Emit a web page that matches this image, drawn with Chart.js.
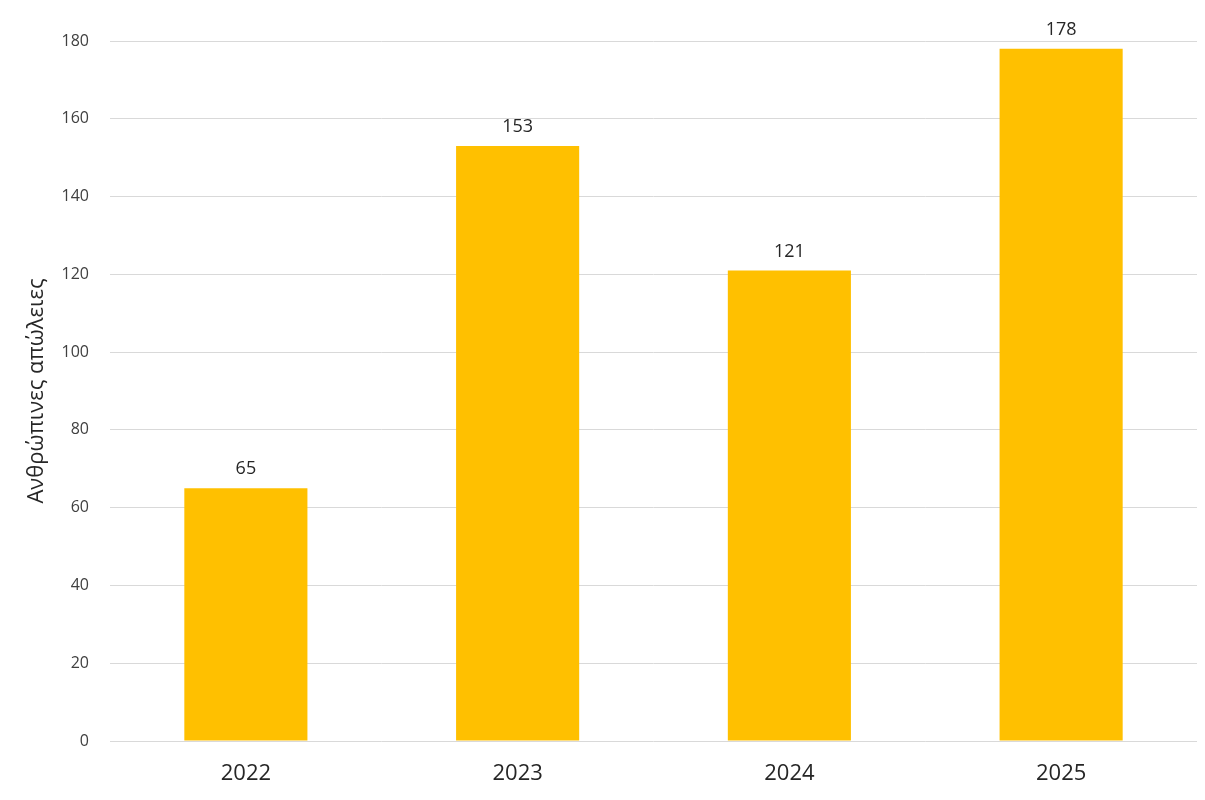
<!DOCTYPE html>
<html>
<head>
<meta charset="utf-8">
<script src="https://cdn.jsdelivr.net/npm/chart.js@4"></script>
<style>
  html, body { margin: 0; padding: 0; background: #fff; }
  #wrap { width: 1205px; height: 800px; }
</style>
</head>
<body>
<div id="wrap"><canvas id="mainChart"></canvas></div>
<script>
const years = ['2022', '2023', '2024', '2025'];
const losses = [65, 153, 121, 178];
const yTicks = [0, 20, 40, 60, 80, 100, 120, 140, 160, 180];

// value labels above each bar
const barLabels = {
  id: 'barLabels',
  afterDatasetsDraw(chart) {
    const ctx = chart.ctx;
    const meta = chart.getDatasetMeta(0);
    ctx.save();
    ctx.font = '18px "Open Sans", sans-serif';
    ctx.fillStyle = '#262626';
    ctx.textAlign = 'center';
    ctx.textBaseline = 'bottom';
    meta.data.forEach((bar, i) => {
      ctx.fillText(losses[i], bar.x, bar.y - 10);
    });
    ctx.restore();
  }
};

const config = {
  type: 'bar',
  data: {
    labels: years,
    datasets: [{
      data: losses,
      backgroundColor: '#FFC000',
      borderWidth: 0,
      barPercentage: 0.453,
      categoryPercentage: 1
    }]
  },
  options: {
    responsive: true,
    maintainAspectRatio: false,
    animation: false,
    layout: {
      padding: { top: 41, right: 8, bottom: 0, left: 0 }
    },
    scales: {
      x: {
        grid: { display: false },
        border: { display: false },
        ticks: {
          color: '#262626',
          font: { size: 22, family: '"Open Sans", sans-serif' },
          padding: 12
        },
        afterFit: scale => { scale.height = 59; }
      },
      y: {
        min: 0,
        max: 180,
        afterBuildTicks: scale => {
          scale.ticks = yTicks.map(v => ({ value: v }));
        },
        grid: { color: '#d9d9d9', lineWidth: 1, drawTicks: false },
        border: { display: false },
        ticks: {
          color: '#404040',
          font: { size: 16, family: '"Open Sans", sans-serif' },
          padding: 21
        },
        title: {
          display: true,
          text: 'Ανθρώπινες απώλειες',
          color: '#262626',
          font: { size: 22, family: '"Open Sans", sans-serif' },
          padding: { top: 24, bottom: 0 }
        },
        afterFit: scale => { scale.width = 110; }
      }
    },
    plugins: {
      legend: { display: false },
      tooltip: { enabled: false }
    }
  },
  plugins: [barLabels]
};

new Chart('mainChart', config);
</script>
</body>
</html>
